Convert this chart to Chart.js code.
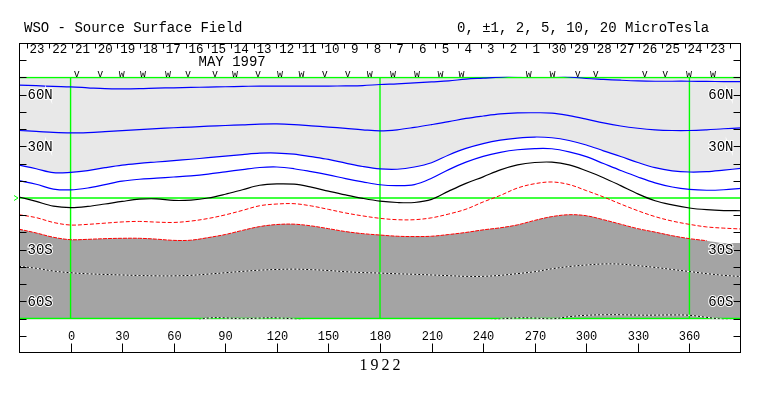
<!DOCTYPE html>
<html>
<head>
<meta charset="utf-8">
<title>WSO - Source Surface Field</title>
<script src="https://cdn.jsdelivr.net/npm/chart.js@4.4.1/dist/chart.umd.min.js"></script>
<style>
    html, body { margin: 0; padding: 0; background: #ffffff; }
    canvas { display: block; }
</style>
</head>
<body>
<canvas id="wsoChart" width="763" height="396"></canvas>
<script>
// ============================================================================
// DATA (CR 1922)
// ============================================================================

// Carrington longitude of each contour sample
const lons = [-30, -20, -10, 0, 10, 20, 30, 40, 50, 60, 70, 80, 90, 100, 110, 120, 130, 140, 150, 160,
    170, 180, 190, 200, 210, 220, 230, 240, 250, 260, 270, 280, 290, 300, 310, 320, 330, 340, 350, 360,
    370, 380, 390];

// latitude of each contour level (microtesla) at those longitudes
const pos10 = [65.5, 65.2, 64.8, 64.5, 64.0, 63.5, 63.4, 63.5, 63.8, 64.0, 64.2, 64.4, 64.6, 64.8, 65.0,
    65.0, 65.0, 65.0, 65.0, 65.1, 65.3, 65.9, 66.3, 66.8, 67.4, 68.0, 69.0, 69.6, 70.2, 71.0, 71.5, 71.2,
    70.3, 69.4, 68.9, 68.4, 68.0, 67.8, 67.8, 67.8, 67.7, 67.6, 67.6];
const pos5 = [39.2, 38.7, 38.1, 37.8, 38.0, 38.5, 39.1, 39.7, 40.3, 40.8, 41.2, 41.7, 42.1, 42.5, 42.9,
    43.0, 42.6, 41.9, 41.2, 40.4, 39.6, 39.0, 39.6, 41.0, 42.6, 44.3, 46.2, 47.6, 48.8, 49.4, 49.5, 49.3,
    47.8, 45.8, 43.6, 41.8, 40.5, 39.6, 39.2, 39.2, 39.6, 40.2, 40.7];
const pos2 = [19.1, 17.0, 14.7, 14.9, 15.9, 17.6, 19.1, 20.1, 20.9, 21.7, 22.5, 23.4, 24.3, 25.2, 26.0,
    26.1, 25.5, 24.0, 22.4, 20.3, 18.3, 16.9, 16.7, 18.0, 20.5, 25.0, 28.8, 31.6, 33.6, 34.8, 35.4, 35.0,
    33.4, 30.8, 27.4, 24.1, 20.6, 17.6, 15.8, 15.1, 15.3, 16.2, 17.2];
const pos1 = [10.1, 8.0, 5.2, 4.7, 5.8, 7.8, 9.8, 10.9, 11.5, 12.2, 12.9, 13.9, 15.2, 16.5, 17.7,
    18.0, 17.0, 15.3, 13.4, 11.3, 9.4, 7.7, 7.2, 7.8, 11.5, 16.5, 20.8, 24.2, 26.5, 28.0, 28.7, 28.6,
    26.8, 24.0, 20.0, 16.0, 12.2, 8.8, 6.4, 5.0, 4.5, 4.8, 5.6];
const zero = [0.6, -2.0, -4.7, -5.6, -4.9, -3.5, -2.0, -0.7, -0.5, -1.4, -1.2, 0.0, 2.2, 4.8, 7.4,
    8.2, 8.0, 6.3, 4.0, 1.8, -0.2, -1.8, -2.6, -2.6, -0.8, 4.0, 8.5, 12.3, 16.3, 19.2, 20.6, 20.8,
    19.2, 15.8, 11.8, 7.2, 2.4, -1.6, -4.0, -5.8, -6.8, -7.3, -7.4];
const neg1 = [-9.7, -11.4, -14.2, -15.7, -15.3, -14.6, -13.9, -13.6, -14.0, -14.2, -13.4, -11.9, -9.8, -7.2, -4.5,
    -3.5, -3.3, -4.6, -6.6, -8.7, -10.4, -11.8, -12.6, -12.6, -11.5, -9.3, -6.5, -2.3, 1.5, 5.8, 8.3, 9.3,
    7.8, 4.3, 0.6, -3.5, -7.4, -10.8, -13.4, -15.3, -16.8, -17.5, -18.0];
const neg2 = [-18.1, -20.3, -22.8, -24.2, -24.0, -23.6, -23.4, -23.4, -23.9, -24.6, -24.5, -23.0, -21.2, -18.8, -16.6,
    -15.4, -15.2, -16.2, -17.8, -19.5, -20.7, -21.5, -22.2, -22.4, -22.2, -21.2, -20.0, -18.5, -17.3, -15.6, -13.0, -10.8,
    -9.7, -10.3, -12.6, -15.2, -17.8, -19.8, -21.9, -23.6, -24.8, -26.2, -26.2];
const neg5 = [-39.7, -40.8, -42.4, -43.4, -44.0, -44.4, -44.7, -45.0, -45.2, -45.2, -44.9, -44.2, -43.4, -42.6, -41.9,
    -41.5, -41.3, -41.6, -42.1, -42.8, -43.3, -43.6, -44.0, -44.3, -44.7, -45.1, -45.5, -45.5, -44.9, -43.9, -42.8, -41.1,
    -39.8, -38.9, -38.3, -38.4, -39.3, -40.3, -41.5, -42.7, -43.9, -44.9, -45.6];
const neg10 = [-71.5, -71.5, -71.5, -71.5, -71.5, -71.5, -71.5, -71.5, -71.5, -71.5, -71.5, -69.7, -69.6, -70.2, -69.7,
    -69.6, -70.3, -71.5, -71.5, -71.5, -71.5, -71.5, -71.5, -71.5, -71.5, -71.5, -71.5, -71.5, -70.3, -69.6, -69.7, -70.2,
    -68.9, -68.1, -67.8, -67.8, -68.0, -68.0, -67.9, -68.1, -69.3, -70.5, -71.5];

// day-of-month labels along the top (Carrington rotation runs right to left in time)
const dayLabels = ['23', '22', '21', '20', '19', '18', '17', '16', '15', '14', '13', '12', '11', '10', '9', '8',
    '7', '6', '5', '4', '3', '2', '1', '30', '29', '28', '27', '26', '25', '24', '23'];
const dayFirstLon = -25.5;
const dayLengthLon = 360 / 27.2753;

// daily polarity marks above the map
const markLons = [3.6, 17.2, 29.8, 42.2, 56.7, 68.3, 84, 95.6, 109, 121.8, 134.4, 147.9, 161.3, 174.1,
    187.5, 201.5, 215.2, 227.4, 266.6, 280.3, 295, 305.5, 334, 346, 359.8, 373.7];
const markSymbols = ['v', 'v', 'w', 'w', 'w', 'v', 'v', 'w', 'v', 'w', 'w', 'v', 'v', 'w',
    'w', 'w', 'w', 'w', 'w', 'w', 'v', 'v', 'v', 'v', 'w', 'w'];

// axes
const lonTicks = [0, 30, 60, 90, 120, 150, 180, 210, 240, 270, 300, 330, 360];
const latTicks = [80, 70, 60, 50, 40, 30, 20, 10, -10, -20, -30, -40, -50, -60, -70, -80];
const latLabelValues = [60, 30, -30, -60];
const latLabelTexts = ['60N', '30N', '30S', '60S'];
const gridLons = [0, 180, 360];
const gridLats = [70, 0, -70];

const lonMin = -30;
const lonMax = 390;
const plotLatLimit = 70;
const monthLabel = 'MAY 1997';
const monthLabelLon = 94;
const rotationLabel = '1922';

// ============================================================================
// DATASETS
// ============================================================================

const toPoints = vals => lons.map((lon, i) => ({ x: lon, y: vals[i] }));

const contour = (vals, color, width, dash, order) => ({
    data: typeof vals[0] === 'object' ? vals : toPoints(vals),
    borderColor: color,
    borderWidth: width,
    borderDash: dash || [],
    fill: false,
    pointRadius: 0,
    tension: 0.35,
    order: order || 1
});

const datasets = [];

// shaded areas
datasets.push({
    data: toPoints(pos2), borderWidth: 0, borderColor: 'rgba(0,0,0,0)', pointRadius: 0,
    tension: 0.35, fill: 'end', backgroundColor: '#e8e8e8', order: 10
});
datasets.push({
    data: toPoints(neg2), borderWidth: 0, borderColor: 'rgba(0,0,0,0)', pointRadius: 0,
    tension: 0.35, fill: 'start', backgroundColor: '#a4a4a4', order: 10
});

// green reference lines
gridLats.forEach(lat => {
    datasets.push(contour([{ x: lonMin, y: lat }, { x: lonMax, y: lat }], '#00ff00', 1.4, null, 5));
});
gridLons.forEach(lon => {
    datasets.push(contour([{ x: lon, y: plotLatLimit }, { x: lon, y: -plotLatLimit }], '#00ff00', 1.4, null, 5));
});

// positive contours
datasets.push(contour(pos10, '#0000ff', 1.2));
datasets.push(contour(pos5, '#0000ff', 1.2));
datasets.push(contour(pos2, '#0000ff', 1.2));
datasets.push(contour(pos1, '#0000ff', 1.2));
// neutral line
datasets.push(contour(zero, '#000000', 1.2));
// negative contours
datasets.push(contour(neg1, '#ff0000', 1, [4, 2]));
datasets.push(contour(toPoints(neg2).filter(p => p.x <= 370), '#ff0000', 1, [4, 1]));
datasets.push(contour(neg5, '#ffffff', 1, null, 2));
datasets.push(contour(neg5, '#000000', 1, [2, 2]));
datasets.push(contour(neg10, '#ffffff', 1, null, 2));
datasets.push(contour(neg10, '#000000', 1, [2, 2]));

// ============================================================================
// FRAME, LABELS AND CLIPPING
// ============================================================================

const MONO = '"Liberation Mono", "DejaVu Sans Mono", monospace';

const wsoDecor = {
    id: 'wsoDecor',
    beforeDraw(chart) {
        const { ctx, width, height } = chart;
        ctx.save();
        ctx.fillStyle = '#ffffff';
        ctx.fillRect(0, 0, width, height);
        ctx.restore();
    },
    beforeDatasetsDraw(chart) {
        // contours only live between 70N and 70S
        const { ctx, chartArea, scales } = chart;
        const top = scales.y.getPixelForValue(plotLatLimit);
        const bottom = scales.y.getPixelForValue(-plotLatLimit);
        ctx.save();
        ctx.beginPath();
        ctx.rect(chartArea.left, top - 0.7, chartArea.right - chartArea.left, bottom - top + 1.4);
        ctx.clip();
    },
    afterDatasetsDraw(chart) {
        chart.ctx.restore();
    },
    afterDraw(chart) {
        const { ctx, chartArea: area, scales: { x, y } } = chart;
        const line = (x1, y1, x2, y2) => {
            ctx.beginPath();
            ctx.moveTo(x1, y1);
            ctx.lineTo(x2, y2);
            ctx.stroke();
        };

        ctx.save();
        ctx.strokeStyle = '#000000';
        ctx.fillStyle = '#000000';
        ctx.lineWidth = 1;

        // frame
        const left = Math.round(area.left) + 0.5;
        const right = Math.round(area.right) - 0.5;
        const top = Math.round(area.top) + 0.5;
        const bottom = Math.round(area.bottom) - 0.5;
        ctx.strokeRect(left, top, right - left, bottom - top);

        // latitude ticks on both sides
        latTicks.forEach(lat => {
            const py = Math.round(y.getPixelForValue(lat)) + 0.5;
            line(left, py, left + 7, py);
            line(right - 7, py, right, py);
        });

        // latitude labels
        ctx.font = '14px ' + MONO;
        ctx.textBaseline = 'middle';
        ctx.lineWidth = 2;
        ctx.strokeStyle = '#ffffff';
        latLabelValues.forEach((lat, i) => {
            const py = y.getPixelForValue(lat) + 1;
            ctx.textAlign = 'left';
            ctx.strokeText(latLabelTexts[i], left + 8, py);
            ctx.fillText(latLabelTexts[i], left + 8, py);
            ctx.textAlign = 'right';
            ctx.strokeText(latLabelTexts[i], right - 7, py);
            ctx.fillText(latLabelTexts[i], right - 7, py);
        });
        ctx.strokeStyle = '#000000';
        ctx.lineWidth = 1;

        // green equator marker outside the frame
        const eq = y.getPixelForValue(0);
        ctx.strokeStyle = '#00ff00';
        line(14, eq - 2.5, 18, eq);
        line(18, eq, 14, eq + 2.5);
        ctx.strokeStyle = '#000000';

        // longitude axis
        ctx.font = '12px ' + MONO;
        ctx.textAlign = 'center';
        lonTicks.forEach(lon => {
            const px = Math.round(x.getPixelForValue(lon)) + 0.5;
            ctx.fillText(String(lon), px, bottom - 16);
            line(px, bottom - 9, px, bottom);
        });

        // day ticks and labels along the top
        ctx.font = '12.5px ' + MONO;
        for (let k = 0; k <= dayLabels.length; k++) {
            const lon = dayFirstLon + k * dayLengthLon;
            const px = Math.round(x.getPixelForValue(lon)) + 0.5;
            line(px, top, px, top + 5);
            if (k < dayLabels.length) {
                const cx = x.getPixelForValue(lon + dayLengthLon / 2) - 1;
                ctx.fillText(dayLabels[k], cx, top + 6);
            }
        }
        ctx.font = '14px ' + MONO;
        ctx.fillText(monthLabel, x.getPixelForValue(monthLabelLon), top + 19);

        // polarity marks
        ctx.font = '10px ' + MONO;
        ctx.textBaseline = 'alphabetic';
        const markY = y.getPixelForValue(plotLatLimit) - 0.8;
        markLons.forEach((lon, i) => {
            ctx.fillText(markSymbols[i], x.getPixelForValue(lon), markY);
        });

        // titles
        ctx.textBaseline = 'middle';
        ctx.font = '14px ' + MONO;
        ctx.textAlign = 'left';
        ctx.fillText('WSO - Source Surface Field', 24, 28);
        ctx.fillText('0, \u00b11, 2, 5, 10, 20 MicroTesla', 457, 28);

        // rotation number
        ctx.font = '16px "Liberation Serif", serif';
        ctx.letterSpacing = '3px';
        ctx.textAlign = 'center';
        ctx.fillText(rotationLabel, x.getPixelForValue(180) + 1.5, 366);
        ctx.letterSpacing = '0px';

        ctx.restore();
    }
};

// ============================================================================
// CHART
// ============================================================================

new Chart(document.getElementById('wsoChart'), {
    type: 'line',
    data: { datasets: datasets },
    options: {
        responsive: false,
        animation: false,
        events: [],
        layout: {
            padding: { left: 19, right: 22, top: 43, bottom: 43 }
        },
        plugins: {
            legend: { display: false },
            tooltip: { enabled: false },
            title: { display: false }
        },
        scales: {
            x: { type: 'linear', min: lonMin, max: lonMax, display: false },
            y: { type: 'linear', min: -90, max: 90, display: false }
        }
    },
    plugins: [wsoDecor]
});
</script>
</body>
</html>
